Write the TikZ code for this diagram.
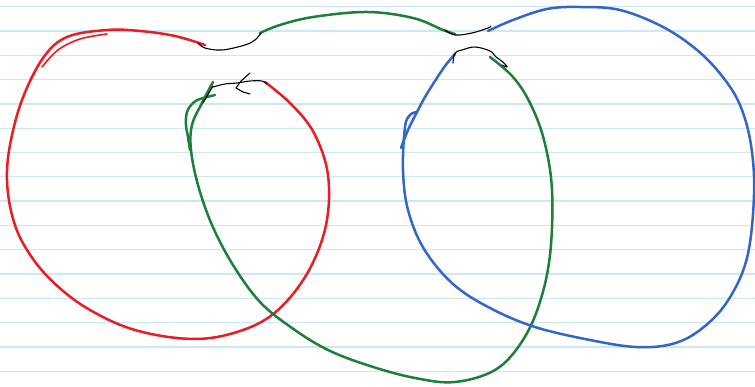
\documentclass[tikz,border=0pt]{standalone}
\usetikzlibrary{calc}
\definecolor{rulec}{RGB}{204,232,248}
\definecolor{inkred}{RGB}{237,28,36}
\definecolor{inkgreen}{RGB}{28,128,58}
\definecolor{inkblue}{RGB}{52,102,200}
\tikzset{
  rule/.style={draw=rulec,line width=1.3pt},
  redink/.style={draw=inkred,line width=2.5pt,line cap=round,line join=round},
  greenink/.style={draw=inkgreen,line width=2.5pt,line cap=round,line join=round},
  blueink/.style={draw=inkblue,line width=2.5pt,line cap=round,line join=round},
  blackink/.style={draw=black,line width=1.1pt,line cap=round,line join=round},
}
\begin{document}
\begin{tikzpicture}[x=1pt,y=-1pt]
\useasboundingbox (0,0) rectangle (755,387);
\fill[white] (0,0) rectangle (755,387);
% ruled paper
\foreach \k in {0,...,15}{
  \draw[rule] (0,{6.7+24.3*\k}) -- (755,{6.7+24.3*\k});
}
% red loop
\draw[redink] plot[smooth,tension=0.6] coordinates {(205,45) (175,36) (140,31) (107,30) (67,37) (43,58) (22,100) (10,145) (7,180) (12,215) (24,245) (48,277) (85,307) (135,330) (195,339) (243,330) (278,310) (308,272) (326,225) (328,175) (314,133) (291,104) (265,82)};
\draw[redink,line width=1.6pt] plot[smooth,tension=0.6] coordinates {(107,34) (80,39) (58,50) (42,67)};
% green loop
\draw[greenink] plot[smooth,tension=0.6] coordinates {(260,33) (280,25) (313,17) (367,12) (413,18) (443,30) (455,34)};
\draw[greenink] plot[smooth,tension=0.6] coordinates {(490,57) (513,77) (530,103) (544,140) (552,190) (550,255) (539,305) (521,343) (495,370) (455,382) (415,378) (370,366) (328,350) (292,328) (260,302) (233,265) (212,225) (198,185) (191,150) (192,125) (202,103) (213,82)};
\draw[greenink] plot[smooth,tension=0.6] coordinates {(215,95) (200,99) (193,103) (187,112) (186,125) (188,137) (190,150)};
% blue loop
\draw[blueink] plot[smooth,tension=0.6] coordinates {(488,31) (513,20) (547,9) (580,7) (620,10) (663,27) (697,50) (722,76) (740,105) (751,145) (754,195) (747,258) (727,302) (700,330) (672,344) (636,347) (590,340) (535,327) (490,308) (453,284) (424,249) (408,210) (403,170) (405,127) (410,115) (417,112)};
\draw[blueink] plot[smooth,tension=0.6] coordinates {(455,54) (445,66) (435,81) (425,97) (417,112) (408,130) (401,148)};
% black joins
\draw[blackink] plot[smooth,tension=0.6] coordinates {(198,43) (205,48) (222,50) (245,45) (255,40) (261,33)};
\draw[blackink] plot[smooth,tension=0.6] coordinates {(445,30) (455,35) (472,33) (488,28) (491,26)};
\draw[blackink] plot[smooth,tension=0.6] coordinates {(453,63) (455,53) (462,50) (475,47) (490,51) (496,57) (503,62) (507,67) (502,65)};
\draw[blackink] plot[smooth,tension=0.6] coordinates {(213,87) (225,84) (237,83) (250,81) (262,81) (267,84)};
\draw[blackink] (213,86) -- (203,103);
\draw[blackink] (250,73) -- (241,81) -- (236,88) -- (243,92) -- (250,94);
\end{tikzpicture}
\end{document}
